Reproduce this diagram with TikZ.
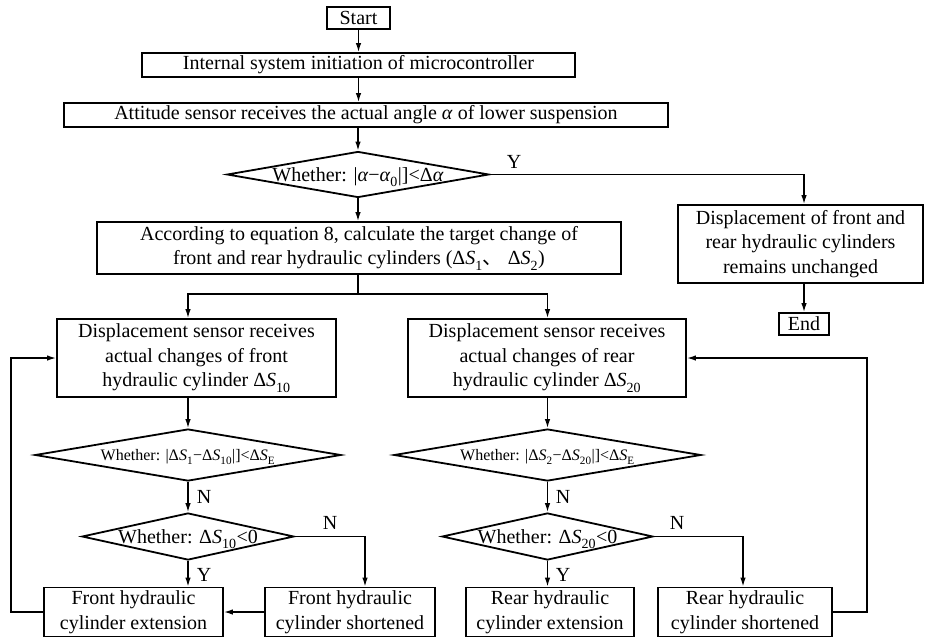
\documentclass[tikz,border=0pt]{standalone}
\usepackage{fontspec}
\setmainfont{Liberation Serif}
\newfontfamily\cjkfont{Noto Sans CJK SC}
\usetikzlibrary{shapes.geometric,arrows.meta}
\newcommand\sbs[1]{\raisebox{-0.12em}{\textsubscript{#1}}}
\newcommand\dtxt[1]{\raisebox{-0.33em}{\makebox[0pt]{#1}}}
\newcommand\DSx{Δ\textit{S}}
\begin{document}
\begin{tikzpicture}[x=1pt,y=-1pt,
  box/.style={draw, line width=1.8pt, inner sep=0pt, align=center, font=\fontsize{20}{24.5}\selectfont},
  dia/.style={draw, diamond, line width=1.8pt, inner sep=0pt, text height=0pt, text depth=0pt, font=\fontsize{20}{24}\selectfont},
  smalldia/.style={dia, font=\fontsize{16}{18}\selectfont},
  arr/.style={line width=1.4pt, -{Latex[length=9pt,width=5.5pt]}},
  lbl/.style={font=\fontsize{20}{24}\selectfont, inner sep=0pt}]
\useasboundingbox (0,0) rectangle (925,638);
% main column
\node[box, minimum width=63, minimum height=22] (start) at (358.5,18) {Start};
\node[box, minimum width=433, minimum height=24] (init) at (358.5,65) {Internal system initiation of microcontroller};
\node[box, minimum width=604, minimum height=24] (att) at (366,115) {Attitude sensor receives the actual angle \textit{α} of lower suspension};
\node[dia, minimum width=262, minimum height=46] (d1) at (358,174.5) {\dtxt{Whether: |\textit{α}−\textit{α}\sbs{0}|]<Δ\textit{α}}};
\node[box, minimum width=245, minimum height=78] (keep) at (800.5,244) {Displacement of front and\\rear hydraulic cylinders\\remains unchanged};
\node[box, minimum width=50, minimum height=22] (end) at (804,324) {End};
\node[box, minimum width=524, minimum height=52] (calc) at (359,248) {According to equation 8, calculate the target change of\\front and rear hydraulic cylinders (\DSx\sbs{1}{\cjkfont 、} \DSx\sbs{2})};
% branches
\node[box, minimum width=279, minimum height=78] (ds1) at (196.5,358) {Displacement sensor receives\\actual changes of front\\hydraulic cylinder \DSx\sbs{10}};
\node[box, minimum width=278, minimum height=78] (ds2) at (547,358) {Displacement sensor receives\\actual changes of rear\\hydraulic cylinder \DSx\sbs{20}};
\node[smalldia, minimum width=306, minimum height=52] (d2) at (188,455) {\dtxt{Whether: |\DSx\sbs{1}−\DSx\sbs{10}|]<\DSx\sbs{E}}};
\node[smalldia, minimum width=307, minimum height=52] (d3) at (547.5,455) {\dtxt{Whether: |\DSx\sbs{2}−\DSx\sbs{20}|]<\DSx\sbs{E}}};
\node[dia, minimum width=212, minimum height=47] (d4) at (188,536.5) {\dtxt{Whether: \DSx\sbs{10}<0}};
\node[dia, minimum width=211, minimum height=47] (d5) at (547.5,536.5) {\dtxt{Whether: \DSx\sbs{20}<0}};
\node[box, minimum width=179, minimum height=49] (b1) at (133.5,612) {Front hydraulic\\cylinder extension};
\node[box, minimum width=170, minimum height=49] (b2) at (350,612) {Front hydraulic\\cylinder shortened};
\node[box, minimum width=168, minimum height=49] (b3) at (550,612) {Rear hydraulic\\cylinder extension};
\node[box, minimum width=174, minimum height=49] (b4) at (745,612) {Rear hydraulic\\cylinder shortened};
% labels
\node[lbl] (y1) at (514,162) {Y};
\node[lbl] (n1) at (204,497) {N};
\node[lbl] (n2) at (563,497) {N};
\node[lbl] (n3) at (330,523) {N};
\node[lbl] (n4) at (677,523) {N};
\node[lbl] (y2) at (204,575) {Y};
\node[lbl] (y3) at (563,575) {Y};
% connectors
\draw[arr] (start) -- (init);
\draw[arr] (init.south) -- (init.south |- att.north);
\draw[arr] (att.south -| d1.north) -- (d1.north);
\draw[arr] (d1.south) -- (d1.south |- calc.north);
\draw[arr] (d1.east) -| ([xshift=3.5pt]keep.north);
\draw[arr] (keep.south -| end.north) -- (end.north);
\draw[line width=1.4pt] (calc.south -| d1.south) -- ++(0,19) coordinate (split);
\draw[arr] (split) -| (ds1.north -| d2.north);
\draw[arr] (split) -| (ds2.north -| d3.north);
\draw[arr] (ds1.south -| d2.north) -- (d2.north);
\draw[arr] (ds2.south -| d3.north) -- (d3.north);
\draw[arr] (d2.south) -- (d4.north);
\draw[arr] (d3.south) -- (d5.north);
\draw[arr] (d4.south) -- (d4.south |- b1.north);
\draw[arr] (d5.south) -- (d5.south |- b3.north);
\draw[arr] (d4.east) -| ([xshift=15pt]b2.north);
\draw[arr] (d5.east) -| ([xshift=-2pt]b4.north);
\draw[arr] (b2.west) -- (b1.east);
\draw[arr] (b1.west) -- ++(-32,0) |- (ds1.west);
\draw[arr] (b4.east) -- ++(34,0) |- (ds2.east);
\end{tikzpicture}
\end{document}
